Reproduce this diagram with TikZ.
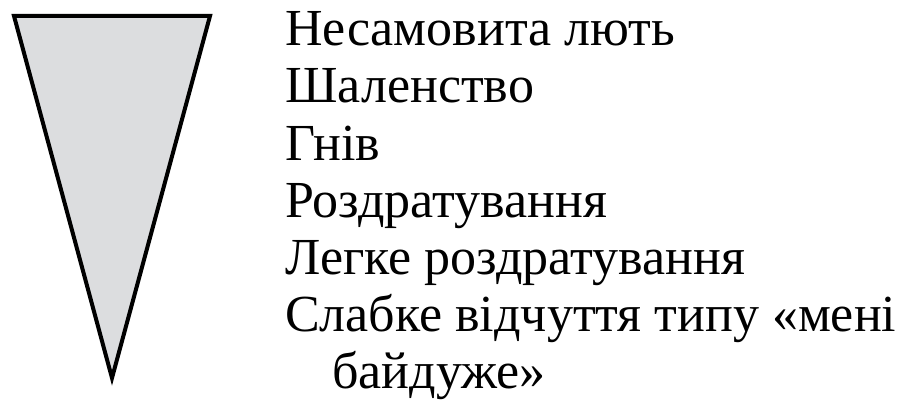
\documentclass[tikz,border=0pt]{standalone}
\usepackage{fontspec}
\setmainfont{Liberation Serif}
\usepackage{xcolor}
\definecolor{conegray}{RGB}{220,221,223}
\usepackage{tikz}

\begin{document}
\begin{tikzpicture}[x=1pt,y=-1pt,
    level/.style={anchor=base west,inner sep=0pt,font=\fontsize{52}{57}\selectfont}]
  \useasboundingbox (0,0) rectangle (907,409);
  \filldraw[fill=conegray,line width=4pt,line join=miter]
    (14,16) -- (210,16) -- (112,378) -- cycle;

  \node[level] (fury) at (285,46) {Несамовита лють};
  \node[level] (rage) at (285,103) {Шаленство};
  \node[level] (anger) at (285,160) {Гнів};
  \node[level] (annoy) at (285,217) {Роздратування};
  \node[level] (mild) at (285,274) {Легке роздратування};
  \node[level] (weak) at (285,331) {Слабке відчуття типу «мені};
  \node[level] (weakb) at (332,388) {байдуже»};
\end{tikzpicture}
\end{document}
